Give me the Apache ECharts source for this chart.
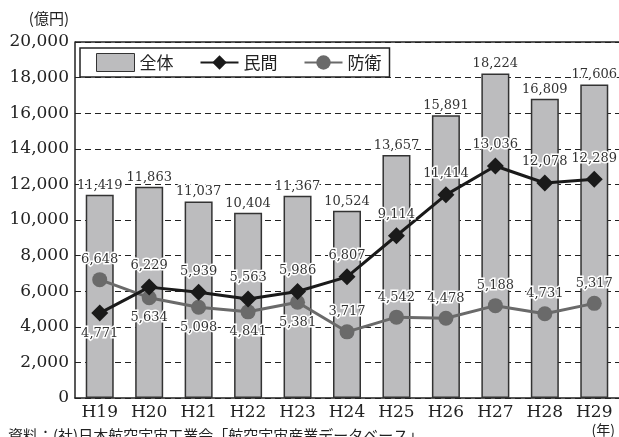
<!DOCTYPE html>
<html>
<head>
<meta charset="utf-8">
<script src="https://cdn.jsdelivr.net/npm/echarts@6/dist/echarts.min.js"></script>
<style>
  html, body { margin: 0; padding: 0; background: #fff; }
  #chart { width: 619px; height: 437px; }
</style>
</head>
<body>
<div id="chart"></div>
<script>
const years = ['H19', 'H20', 'H21', 'H22', 'H23', 'H24', 'H25', 'H26', 'H27', 'H28', 'H29'];
const totalValues = [11419, 11863, 11037, 10404, 11367, 10524, 13657, 15891, 18224, 16809, 17606];
const civilValues = [4771, 6229, 5939, 5563, 5986, 6807, 9114, 11414, 13036, 12078, 12289];
const defenseValues = [6648, 5634, 5098, 4841, 5381, 3717, 4542, 4478, 5188, 4731, 5317];
const civilLabelPos = ['bottom', 'top', 'top', 'top', 'top', 'top', 'top', 'top', 'top', 'top', 'top'];
const defenseLabelPos = ['top', 'bottom', 'bottom', 'bottom', 'bottom', 'top', 'top', 'top', 'top', 'top', 'top'];

const serif = '"DejaVu Serif", "Liberation Serif", serif';
const jp = '"Noto Sans CJK JP", sans-serif';
const labelText = {
    fontFamily: serif,
    fontSize: 13,
    color: '#333',
    textBorderColor: '#fff',
    textBorderWidth: 3,
    formatter: p => p.value.toLocaleString('en-US')
};

const getOption = () => {
    return {
        animation: false,
        grid: { left: 75, top: 42, width: 548, bottom: 39 },
        legend: {
            left: 80,
            top: 48,
            width: 318,
            height: 30,
            padding: [5, 8, 5, 16],
            itemGap: 26,
            borderColor: '#222',
            borderWidth: 1.5,
            backgroundColor: '#fff',
            itemWidth: 38,
            itemHeight: 18,
            textStyle: { fontFamily: jp, fontSize: 17, color: '#222' },
            data: [
                { name: '全体', icon: 'rect', itemStyle: { color: '#bcbcbe', borderColor: '#333', borderWidth: 1 } },
                { name: '民間' },
                { name: '防衛' }
            ]
        },
        xAxis: {
            type: 'category',
            data: years,
            axisLine: { lineStyle: { color: '#222', width: 1.5 } },
            axisTick: { show: false },
            axisLabel: { fontFamily: serif, fontSize: 17, color: '#222', margin: 6 },
            name: '(年)',
            nameLocation: 'end',
            nameGap: 0,
            nameTextStyle: {
                fontFamily: jp, fontSize: 14, color: '#222',
                align: 'right', verticalAlign: 'top', padding: [25, 4, 0, 0]
            }
        },
        yAxis: {
            type: 'value',
            min: 0,
            max: 20000,
            interval: 2000,
            name: '(億円)',
            nameLocation: 'end',
            nameGap: 16,
            nameTextStyle: {
                fontFamily: jp, fontSize: 15, color: '#222',
                align: 'right', padding: [0, 6, 0, 0]
            },
            axisLine: { show: true, lineStyle: { color: '#222', width: 1.5 } },
            axisTick: { show: false },
            axisLabel: {
                fontFamily: serif, fontSize: 17, color: '#222', margin: 6,
                formatter: v => v.toLocaleString('en-US')
            },
            splitLine: { lineStyle: { color: '#222', type: [6, 4], width: 1.2 } }
        },
        series: [
            {
                name: '全体',
                type: 'bar',
                data: totalValues,
                barWidth: 28,
                itemStyle: { color: '#bcbcbe', borderColor: '#333', borderWidth: 1.5 },
                label: Object.assign({ show: true, position: 'top', distance: 3 }, labelText),
                z: 2
            },
            {
                name: '民間',
                type: 'line',
                data: civilValues.map((v, i) => ({ value: v, label: { position: civilLabelPos[i] } })),
                symbol: 'diamond',
                symbolSize: 17,
                lineStyle: { color: '#1a1a1a', width: 3 },
                itemStyle: { color: '#1a1a1a' },
                label: Object.assign({ show: true, distance: 6 }, labelText),
                z: 4
            },
            {
                name: '防衛',
                type: 'line',
                data: defenseValues.map((v, i) => ({ value: v, label: { position: defenseLabelPos[i] } })),
                symbol: 'circle',
                symbolSize: 15,
                lineStyle: { color: '#6a6a6a', width: 3 },
                itemStyle: { color: '#6a6a6a' },
                label: Object.assign({ show: true, distance: 6 }, labelText),
                z: 3
            }
        ],
        graphic: [
            {
                type: 'rect',
                shape: { x: 75, y: 42, width: 560, height: 0 },
                style: { stroke: '#222', lineWidth: 1.5, fill: null },
                z: 1
            },
            {
                type: 'text',
                left: 8,
                top: 428,
                style: {
                    text: '資料：(社)日本航空宇宙工業会「航空宇宙産業データベース」',
                    font: '15px "Noto Sans CJK JP", sans-serif',
                    fill: '#222'
                }
            }
        ]
    };
};

const initChart = () => {
    const chart = echarts.init(document.getElementById('chart'));
    chart.setOption(getOption());
};

window.addEventListener('load', () => {
    initChart();
});
</script>
</body>
</html>
